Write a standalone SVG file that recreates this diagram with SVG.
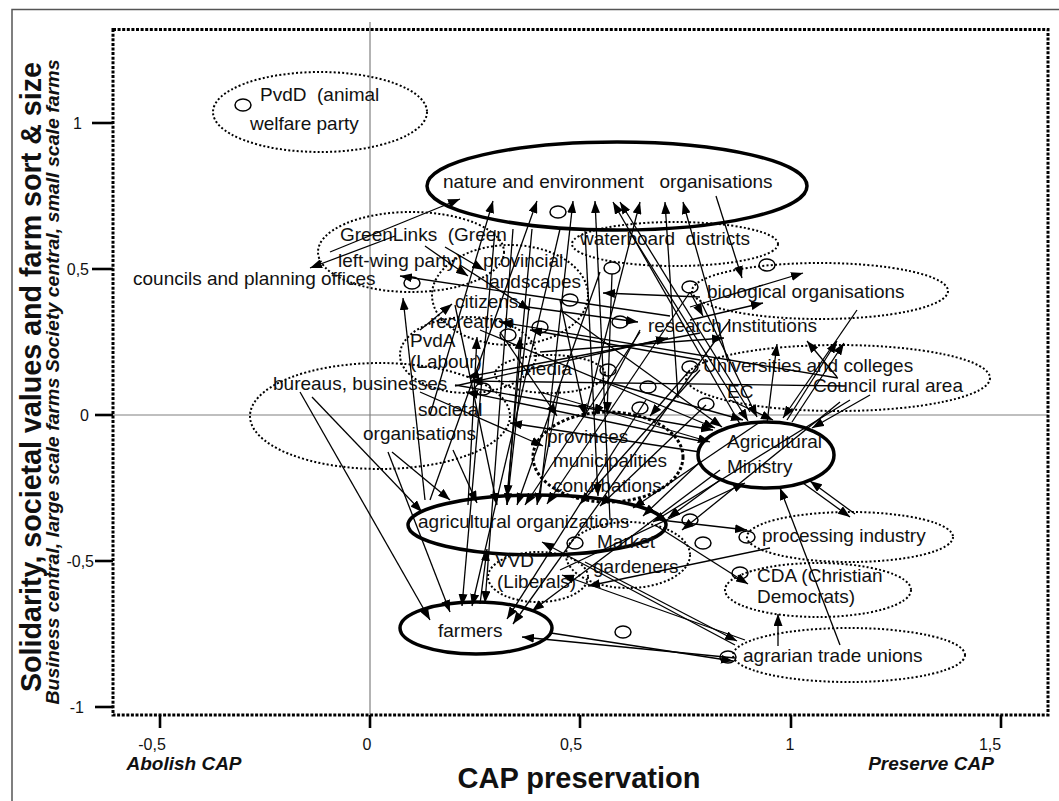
<svg xmlns="http://www.w3.org/2000/svg" width="1059" height="801" viewBox="0 0 1059 801">
<style>
  text { font-family: "Liberation Sans", Arial, sans-serif; fill: #111; }
  .lbl { font-size: 19px; white-space: pre; }
  .tick { font-size: 16px; }
  .solid { fill: none; stroke: #000; stroke-width: 3.5; }
  .dot { fill: none; stroke: #000; stroke-width: 2; stroke-dasharray: 2 2.2; }
  .dotb { fill: none; stroke: #000; stroke-width: 3; stroke-dasharray: 3 2.2; }
  .pt { fill: none; stroke: #000; stroke-width: 1.5; }
  .c line { stroke: #000; stroke-width: 1.3; marker-end: url(#ah); }
  .ax { stroke: #000; stroke-width: 2.6; }
  .zero { stroke: #808080; stroke-width: 1.2; }
</style>
<defs>
  <marker id="ah" viewBox="0 0 12 9" refX="12" refY="4.5" markerWidth="12" markerHeight="9" markerUnits="userSpaceOnUse" orient="auto">
    <path d="M0,0 L12,4.5 L0,9 z" fill="#000"/>
  </marker>
</defs>
<rect width="1059" height="801" fill="#fff"/>
<!-- outer frame -->
<rect x="12" y="9.5" width="1070" height="800" fill="none" stroke="#555" stroke-width="1.5"/>

<!-- axes -->
<g id="axes">
  <line class="zero" x1="370" y1="22" x2="370" y2="715"/>
  <line class="zero" x1="113" y1="415" x2="1048" y2="415"/>
  <rect x="113" y="29.5" width="935" height="685.5" fill="none" stroke="#000" stroke-width="3" stroke-dasharray="3 1.6"/>
  <line class="ax" x1="92" y1="123" x2="113" y2="123"/>
  <line class="ax" x1="92" y1="269" x2="113" y2="269"/>
  <line class="ax" x1="95" y1="415" x2="113" y2="415"/>
  <line class="ax" x1="95" y1="561" x2="113" y2="561"/>
  <line class="ax" x1="95" y1="707" x2="113" y2="707"/>
  <line class="ax" x1="160" y1="715" x2="160" y2="728"/>
  <line class="ax" x1="370" y1="715" x2="370" y2="728"/>
  <line class="ax" x1="580" y1="715" x2="580" y2="728"/>
  <line class="ax" x1="791" y1="715" x2="791" y2="728"/>
  <line class="ax" x1="1001" y1="715" x2="1001" y2="728"/>
  <text class="tick" x="82" y="129" text-anchor="end">1</text>
  <text class="tick" x="89" y="275" text-anchor="end">0,5</text>
  <text class="tick" x="89" y="421" text-anchor="end">0</text>
  <text class="tick" x="94" y="567" text-anchor="end">-0,5</text>
  <text class="tick" x="84" y="713" text-anchor="end">-1</text>
  <text class="tick" x="152" y="750" text-anchor="middle">-0,5</text>
  <text class="tick" x="367" y="750" text-anchor="middle">0</text>
  <text class="tick" x="571" y="750" text-anchor="middle">0,5</text>
  <text class="tick" x="790" y="750" text-anchor="middle">1</text>
  <text class="tick" x="990" y="750" text-anchor="middle">1,5</text>
  <text x="184" y="770" text-anchor="middle" font-size="19" font-weight="bold" font-style="italic">Abolish CAP</text>
  <text x="931" y="770" text-anchor="middle" font-size="19" font-weight="bold" font-style="italic">Preserve CAP</text>
  <text x="579" y="788" text-anchor="middle" font-size="29" font-weight="bold">CAP preservation</text>
  <text transform="translate(41,377) rotate(-90)" text-anchor="middle" font-size="29" font-weight="bold" textLength="630" lengthAdjust="spacingAndGlyphs">Solidarity, societal values and farm sort &amp; size</text>
  <text transform="translate(59,382) rotate(-90)" text-anchor="middle" font-size="19" font-weight="bold" font-style="italic" textLength="645" lengthAdjust="spacingAndGlyphs">Business central, large scale farms Society central, small scale farms</text>
</g>

<!-- actors -->
<g id="pvdd"><ellipse class="dot" cx="320" cy="112" rx="107" ry="40"/><ellipse class="pt" cx="243" cy="105" rx="8" ry="6"/>
  <text class="lbl" x="260" y="101">PvdD  (animal</text><text class="lbl" x="250" y="130">welfare party</text></g>
<g id="nature"><ellipse class="solid" cx="617" cy="186" rx="190" ry="44"/><ellipse class="pt" cx="558" cy="212" rx="8" ry="6"/>
  <text class="lbl" x="443" y="188">nature and environment   organisations</text></g>
<g id="greenlinks"><ellipse class="dot" cx="411" cy="252" rx="93" ry="40"/><ellipse class="pt" cx="412" cy="283" rx="8" ry="6"/>
  <text class="lbl" x="340" y="241">GreenLinks  (Green</text><text class="lbl" x="338" y="267">left-wing party)</text></g>
<g id="councils"><text class="lbl" x="133" y="285">councils and planning offices</text></g>
<g id="landscapes"><ellipse class="dot" cx="510" cy="295" rx="78" ry="50"/><ellipse class="pt" cx="570" cy="300" rx="8" ry="6"/>
  <text class="lbl" x="483" y="267">provincial</text><text class="lbl" x="485" y="288">landscapes</text></g>
<g id="waterboard"><ellipse class="dot" cx="675" cy="244" rx="103" ry="22"/><ellipse class="pt" cx="612" cy="268" rx="8" ry="6"/>
  <text class="lbl" x="580" y="245">waterboard  districts</text></g>
<g id="biological"><ellipse class="dot" cx="820" cy="291" rx="128" ry="28"/><ellipse class="pt" cx="690" cy="287" rx="8" ry="6"/><ellipse class="pt" cx="767" cy="265" rx="8" ry="6"/>
  <text class="lbl" x="707" y="298">biological organisations</text></g>
<g id="citizens"><ellipse class="pt" cx="540" cy="327" rx="8" ry="6"/><text class="lbl" x="455" y="308">citizens</text></g>
<g id="recreation"><ellipse class="pt" cx="508" cy="335" rx="8" ry="6"/><text class="lbl" x="430" y="328">recreation</text></g>
<g id="research"><ellipse class="pt" cx="620" cy="322" rx="8" ry="6"/><text class="lbl" x="648" y="332">research institutions</text></g>
<g id="pvda"><ellipse class="dot" cx="468" cy="355" rx="68" ry="38"/><text class="lbl" x="410" y="347">PvdA</text><text class="lbl" x="410" y="368">(Labour)</text></g>
<g id="media"><ellipse class="dot" cx="550" cy="374" rx="55" ry="19"/><ellipse class="pt" cx="608" cy="370" rx="8" ry="6"/><text class="lbl" x="520" y="375">media</text></g>
<g id="universities"><ellipse class="dot" cx="838" cy="378" rx="152" ry="33"/><ellipse class="pt" cx="690" cy="367" rx="8" ry="6"/>
  <text class="lbl" x="703" y="372">Universities and colleges</text></g>
<g id="council-rural"><ellipse class="pt" cx="648" cy="387" rx="8" ry="6"/><text class="lbl" x="813" y="392">Council rural area</text></g>
<g id="ec"><ellipse class="pt" cx="706" cy="404" rx="8" ry="6"/><text class="lbl" x="727" y="398">EC</text></g>
<g id="bureaus"><ellipse class="dot" cx="380" cy="416" rx="130" ry="53"/><ellipse class="pt" cx="483" cy="389" rx="8" ry="6"/>
  <text class="lbl" x="273" y="390">bureaus, businesses</text><text class="lbl" x="418" y="416">societal</text><text class="lbl" x="363" y="440">organisations</text></g>
<g id="provinces"><ellipse class="dotb" cx="608" cy="457" rx="75" ry="45"/><ellipse class="pt" cx="640" cy="408" rx="8" ry="6"/>
  <text class="lbl" x="547" y="443">provinces</text><text class="lbl" x="553" y="467">municipalities</text><text class="lbl" x="553" y="492">conurbations</text></g>
<g id="ministry"><ellipse class="solid" cx="766" cy="455" rx="68" ry="33"/>
  <text class="lbl" x="727" y="448">Agricultural</text><text class="lbl" x="727" y="473">Ministry</text></g>
<g id="agri-org"><ellipse class="solid" cx="537" cy="525" rx="129" ry="30"/><ellipse class="pt" cx="575" cy="543" rx="8" ry="6"/>
  <text class="lbl" x="418" y="528">agricultural organizations</text></g>
<g id="market"><ellipse class="dot" cx="628" cy="555" rx="62" ry="33"/><ellipse class="pt" cx="690" cy="520" rx="8" ry="6"/>
  <text class="lbl" x="597" y="548">Market</text><text class="lbl" x="593" y="573">gardeners</text></g>
<g id="vvd"><ellipse class="dot" cx="538" cy="577" rx="50" ry="25"/><text class="lbl" x="495" y="567">VVD</text><text class="lbl" x="497" y="588">(Liberals)</text></g>
<g id="processing"><ellipse class="dot" cx="850" cy="537" rx="103" ry="25"/><ellipse class="pt" cx="747" cy="537" rx="8" ry="6"/><ellipse class="pt" cx="703" cy="543" rx="8" ry="6"/>
  <text class="lbl" x="762" y="542">processing industry</text></g>
<g id="cda"><ellipse class="dot" cx="818" cy="590" rx="93" ry="27"/><ellipse class="pt" cx="740" cy="573" rx="8" ry="6"/>
  <text class="lbl" x="757" y="582">CDA (Christian</text><text class="lbl" x="757" y="603">Democrats)</text></g>
<g id="agrarian"><ellipse class="dot" cx="849" cy="655" rx="116" ry="27"/><ellipse class="pt" cx="728" cy="657" rx="8" ry="6"/>
  <text class="lbl" x="743" y="662">agrarian trade unions</text></g>
<g id="farmers"><ellipse class="solid" cx="476" cy="628" rx="76" ry="26"/><ellipse class="pt" cx="623" cy="632" rx="8" ry="6"/>
  <text class="lbl" x="438" y="637">farmers</text></g>

<!-- influence arrows -->
<g id="connectors" class="c">
  <line x1="330" y1="252" x2="460" y2="199"/>
  <line x1="430" y1="415" x2="493" y2="201"/>
  <line x1="430" y1="500" x2="537" y2="201"/>
  <line x1="540" y1="497" x2="573" y2="201"/>
  <line x1="610" y1="520" x2="595" y2="201"/>
  <line x1="740" y1="424" x2="613" y2="202"/>
  <line x1="750" y1="412" x2="620" y2="202"/>
  <line x1="585" y1="416" x2="640" y2="202"/>
  <line x1="678" y1="398" x2="665" y2="202"/>
  <line x1="728" y1="362" x2="683" y2="202"/>
  <line x1="513" y1="229" x2="485" y2="603"/>
  <line x1="532" y1="229" x2="507" y2="497"/>
  <line x1="585" y1="230" x2="598" y2="496"/>
  <line x1="628" y1="229" x2="748" y2="421"/>
  <line x1="716" y1="196" x2="742" y2="278"/>
  <line x1="395" y1="236" x2="310" y2="268"/>
  <line x1="425" y1="246" x2="468" y2="276"/>
  <line x1="445" y1="247" x2="484" y2="270"/>
  <line x1="670" y1="316" x2="400" y2="276"/>
  <line x1="300" y1="392" x2="430" y2="620"/>
  <line x1="312" y1="397" x2="422" y2="512"/>
  <line x1="392" y1="452" x2="450" y2="500"/>
  <line x1="453" y1="450" x2="477" y2="503"/>
  <line x1="388" y1="452" x2="450" y2="612"/>
  <line x1="420" y1="330" x2="452" y2="304"/>
  <line x1="700" y1="297" x2="603" y2="293"/>
  <line x1="520" y1="306" x2="638" y2="322"/>
  <line x1="455" y1="386" x2="668" y2="338"/>
  <line x1="540" y1="352" x2="724" y2="338"/>
  <line x1="690" y1="292" x2="703" y2="316"/>
  <line x1="460" y1="265" x2="530" y2="310"/>
  <line x1="700" y1="360" x2="530" y2="330"/>
  <line x1="700" y1="333" x2="467" y2="377"/>
  <line x1="705" y1="442" x2="466" y2="392"/>
  <line x1="700" y1="452" x2="510" y2="423"/>
  <line x1="500" y1="332" x2="557" y2="416"/>
  <line x1="560" y1="300" x2="585" y2="416"/>
  <line x1="640" y1="330" x2="594" y2="416"/>
  <line x1="612" y1="274" x2="607" y2="414"/>
  <line x1="690" y1="370" x2="650" y2="416"/>
  <line x1="420" y1="392" x2="543" y2="446"/>
  <line x1="455" y1="305" x2="497" y2="505"/>
  <line x1="530" y1="298" x2="507" y2="505"/>
  <line x1="600" y1="272" x2="517" y2="505"/>
  <line x1="640" y1="332" x2="525" y2="505"/>
  <line x1="560" y1="385" x2="537" y2="505"/>
  <line x1="690" y1="292" x2="547" y2="504"/>
  <line x1="700" y1="370" x2="580" y2="504"/>
  <line x1="706" y1="405" x2="600" y2="506"/>
  <line x1="760" y1="422" x2="633" y2="508"/>
  <line x1="700" y1="462" x2="643" y2="516"/>
  <line x1="850" y1="400" x2="653" y2="522"/>
  <line x1="495" y1="230" x2="462" y2="606"/>
  <line x1="560" y1="229" x2="472" y2="606"/>
  <line x1="646" y1="400" x2="507" y2="619"/>
  <line x1="730" y1="320" x2="513" y2="624"/>
  <line x1="720" y1="470" x2="532" y2="611"/>
  <line x1="735" y1="658" x2="522" y2="637"/>
  <line x1="480" y1="604" x2="487" y2="549"/>
  <line x1="551" y1="633" x2="733" y2="661"/>
  <line x1="735" y1="645" x2="542" y2="542"/>
  <line x1="745" y1="640" x2="562" y2="575"/>
  <line x1="585" y1="562" x2="737" y2="641"/>
  <line x1="660" y1="520" x2="747" y2="530"/>
  <line x1="803" y1="483" x2="850" y2="517"/>
  <line x1="855" y1="514" x2="810" y2="481"/>
  <line x1="770" y1="548" x2="588" y2="586"/>
  <line x1="655" y1="525" x2="748" y2="584"/>
  <line x1="778" y1="646" x2="778" y2="614"/>
  <line x1="840" y1="645" x2="780" y2="488"/>
  <line x1="767" y1="423" x2="777" y2="344"/>
  <line x1="787" y1="420" x2="837" y2="341"/>
  <line x1="792" y1="422" x2="844" y2="343"/>
  <line x1="837" y1="377" x2="807" y2="341"/>
  <line x1="857" y1="310" x2="783" y2="418"/>
  <line x1="690" y1="320" x2="763" y2="303"/>
  <line x1="455" y1="385" x2="713" y2="430"/>
  <line x1="480" y1="330" x2="715" y2="428"/>
  <line x1="560" y1="310" x2="722" y2="427"/>
  <line x1="540" y1="392" x2="710" y2="442"/>
  <line x1="600" y1="380" x2="743" y2="420"/>
  <line x1="700" y1="300" x2="757" y2="417"/>
  <line x1="730" y1="400" x2="773" y2="420"/>
  <line x1="870" y1="395" x2="812" y2="428"/>
  <line x1="560" y1="570" x2="745" y2="483"/>
  <line x1="720" y1="480" x2="668" y2="518"/>
  <line x1="840" y1="402" x2="682" y2="530"/>
  <line x1="845" y1="386" x2="470" y2="381"/>
  <line x1="838" y1="378" x2="500" y2="322"/>
  <line x1="690" y1="307" x2="803" y2="273"/>
  <line x1="425" y1="500" x2="403" y2="298"/>
  <line x1="468" y1="505" x2="477" y2="337"/>
  <line x1="507" y1="505" x2="520" y2="337"/>
</g>
</svg>
